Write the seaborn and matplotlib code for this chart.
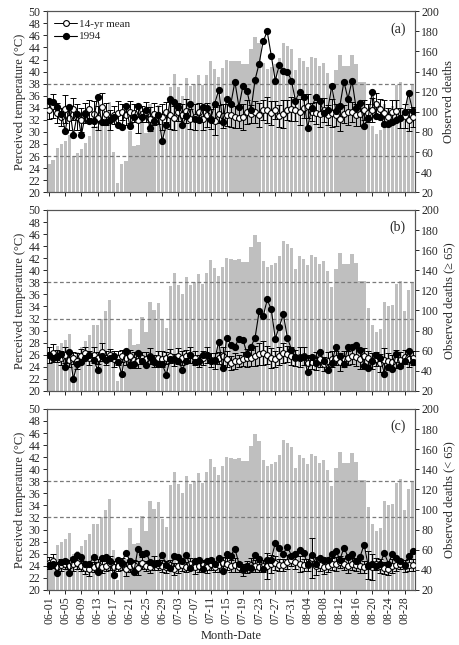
import numpy as np
import pandas as pd
import matplotlib
matplotlib.use('Agg')
import matplotlib.pyplot as plt
import seaborn as sns

# dates 06-01 .. 08-30
dates = pd.date_range('1994-06-01', '1994-08-30').strftime('%m-%d').tolist()

# perceived temperature (bars, left axis)
temp = [24.7, 25.4, 27.4, 28.0, 28.5, 29.5, 26.0, 26.5, 27.2, 28.2,
        29.3, 30.9, 30.9, 32.0, 33.2, 35.0, 26.6, 21.6, 24.6, 25.1,
        30.2, 27.6, 27.8, 32.3, 29.8, 34.7, 33.4, 34.5, 31.8, 30.5,
        37.4, 39.6, 37.5, 36.0, 38.9, 37.6, 38.0, 39.4, 37.7, 39.5,
        41.7, 40.4, 39.1, 40.6, 42.0, 41.8, 41.7, 41.8, 41.3, 41.3,
        43.8, 45.8, 44.7, 41.5, 40.5, 40.8, 41.2, 42.3, 44.8, 44.3,
        43.7, 40.2, 42.3, 41.8, 40.8, 42.5, 42.2, 41.0, 41.5, 39.8,
        37.2, 40.2, 42.8, 41.0, 41.0, 42.7, 41.2, 38.2, 38.2, 33.7,
        31.0, 29.7, 30.3, 34.7, 34.0, 34.3, 37.7, 38.3, 33.3, 36.7,
        38.0]

# (a) all deaths
a_1994 = [111, 110, 105, 98, 81, 105, 77, 98, 77, 98,
          91, 91, 115, 90, 90, 92, 95, 87, 85, 106,
          86, 95, 106, 95, 102, 84, 91, 97, 71, 87,
          113, 110, 105, 87, 96, 108, 93, 92, 105, 104,
          92, 108, 122, 90, 113, 108, 130, 105, 126, 121,
          102, 132, 148, 170, 180, 156, 131, 147, 141, 140,
          131, 111, 120, 115, 84, 104, 115, 111, 99, 102,
          126, 101, 106, 130, 113, 131, 104, 109, 86, 94,
          120, 96, 95, 88, 88, 90, 92, 94, 100, 119,
          101]
a_mean = [102, 106, 99, 95, 103, 94, 103, 95, 92, 99,
          103, 98, 94, 105, 98, 92, 97, 99, 100, 97,
          100, 99, 92, 98, 100, 93, 98, 97, 95, 100,
          97, 94, 100, 97, 101, 93, 95, 100, 93, 97,
          93, 91, 98, 96, 97, 97, 95, 94, 95, 100,
          98, 100, 97, 102, 102, 99, 102, 96, 98, 102,
          103, 102, 100, 104, 106, 100, 99, 98, 102, 97,
          99, 97, 93, 98, 100, 100, 97, 98, 102, 99,
          102, 108, 103, 99, 95, 100, 101, 94, 96, 92,
          95]
a_err = [9, 12, 10, 9, 14, 12, 11, 13, 12, 10,
         9, 13, 12, 14, 11, 10, 9, 12, 8, 10,
         11, 9, 13, 8, 10, 12, 11, 9, 13, 10,
         14, 12, 9, 11, 12, 10, 13, 9, 11, 12,
         10, 14, 9, 12, 11, 12, 11, 10, 13, 12,
         9, 11, 12, 10, 13, 12, 9, 11, 14, 10,
         12, 11, 13, 10, 12, 9, 11, 13, 12, 10,
         14, 11, 12, 9, 13, 10, 11, 12, 10, 9,
         12, 11, 10, 13, 9, 12, 11, 10, 12, 11,
         10]

# (b) deaths >= 65
b_1994 = [56, 53, 54, 57, 44, 59, 32, 47, 49, 53,
          56, 51, 41, 55, 51, 53, 55, 49, 37, 60,
          46, 47, 58, 50, 46, 54, 49, 47, 47, 36,
          52, 52, 50, 41, 50, 56, 49, 50, 56, 56,
          50, 51, 69, 43, 73, 66, 64, 72, 71, 57,
          64, 73, 99, 94, 111, 101, 72, 84, 96, 73,
          61, 54, 53, 54, 39, 54, 48, 59, 50, 41,
          48, 64, 55, 47, 64, 64, 66, 61, 45, 43,
          50, 56, 53, 37, 44, 42, 57, 45, 50, 60,
          49]
b_mean = [56, 58, 55, 53, 56, 51, 53, 50, 55, 58,
          53, 56, 53, 59, 53, 56, 52, 53, 55, 53,
          55, 51, 50, 53, 52, 55, 50, 53, 52, 53,
          55, 51, 55, 53, 55, 56, 53, 50, 53, 56,
          51, 50, 53, 55, 52, 48, 50, 50, 52, 53,
          53, 55, 57, 58, 56, 53, 52, 55, 58, 57,
          55, 53, 54, 55, 48, 49, 50, 52, 47, 50,
          52, 53, 49, 52, 53, 55, 54, 52, 55, 53,
          50, 52, 48, 51, 50, 49, 52, 51, 54, 52,
          53]
b_err = [8, 9, 6, 7, 8, 7, 6, 8, 7, 6,
         7, 8, 6, 9, 7, 6, 8, 7, 6, 7,
         6, 8, 7, 6, 7, 8, 6, 7, 8, 6,
         7, 6, 8, 7, 6, 8, 7, 6, 7, 8,
         7, 8, 6, 9, 8, 7, 8, 6, 7, 9,
         8, 10, 11, 12, 9, 10, 8, 9, 10, 8,
         9, 8, 10, 9, 8, 7, 9, 8, 7, 9,
         8, 7, 9, 8, 7, 8, 9, 10, 8, 7,
         8, 7, 9, 12, 8, 7, 9, 8, 7, 8,
         7]

# (c) deaths < 65
c_1994 = [45, 46, 37, 48, 49, 37, 51, 55, 53, 46,
          46, 53, 38, 52, 53, 49, 35, 50, 47, 57,
          49, 38, 61, 56, 57, 48, 46, 47, 55, 45,
          42, 54, 53, 49, 55, 42, 49, 50, 41, 49,
          50, 46, 52, 39, 56, 54, 61, 46, 41, 44,
          42, 55, 51, 41, 50, 50, 67, 62, 56, 63,
          54, 56, 60, 57, 46, 55, 46, 52, 50, 50,
          56, 59, 50, 62, 53, 56, 49, 53, 65, 44,
          46, 44, 46, 57, 46, 56, 52, 49, 45, 54,
          59]
c_mean = [47, 49, 43, 45, 46, 44, 46, 47, 44, 42,
          41, 43, 45, 43, 44, 47, 43, 44, 46, 41,
          44, 45, 42, 47, 44, 43, 47, 45, 44, 43,
          45, 41, 44, 45, 43, 46, 43, 44, 45, 43,
          46, 43, 45, 47, 46, 44, 45, 43, 40, 43,
          45, 44, 43, 44, 44, 46, 47, 45, 45, 48,
          50, 48, 46, 45, 45, 52, 44, 45, 43, 44,
          46, 46, 48, 46, 44, 46, 45, 44, 43, 45,
          43, 46, 44, 42, 41, 44, 45, 46, 44, 45,
          45]
c_err = [6, 7, 5, 6, 5, 6, 7, 6, 5, 6,
         7, 5, 6, 6, 5, 7, 6, 5, 6, 7,
         6, 5, 7, 6, 5, 6, 7, 5, 6, 6,
         5, 6, 7, 6, 5, 6, 7, 6, 5, 6,
         6, 5, 7, 6, 6, 6, 7, 5, 6, 6,
         7, 6, 5, 6, 13, 9, 7, 6, 6, 7,
         6, 7, 8, 6, 6, 20, 9, 6, 7, 6,
         6, 7, 6, 6, 7, 6, 6, 7, 6, 14,
         13, 6, 7, 6, 6, 7, 6, 5, 6, 6,
         6]

panels = [
    ('(a)', 'Observed deaths', a_1994, a_mean, a_err, [38, 26]),
    ('(b)', 'Observed deaths (\u2265 65)', b_1994, b_mean, b_err, [38, 32]),
    ('(c)', 'Observed deaths (< 65)', c_1994, c_mean, c_err, [38, 32]),
]

sns.set_style('ticks')
plt.rcParams['font.family'] = ['Liberation Serif', 'DejaVu Serif']
plt.rcParams['font.size'] = 8.5

fig = plt.figure(figsize=(4.6, 6.45), dpi=100)
bottoms = [0.702, 0.394, 0.0855]
x = np.arange(len(dates))
df = pd.DataFrame({'date': dates, 'temp': temp})

for k, (tag, rlabel, y94, ymean, yerr, hlines) in enumerate(panels):
    ax = fig.add_axes([0.1015, bottoms[k], 0.8007, 0.2805])
    sns.barplot(data=df, x='date', y='temp', color='#bfbfbf', saturation=1,
                width=0.82, linewidth=0, edgecolor='none', ax=ax, zorder=1)
    for h in hlines:
        ax.axhline(h, ls=(0, (3, 2)), color='#7a7a7a', lw=0.9, zorder=2)
    ax.set_ylim(20, 50)
    ax.set_yticks(range(20, 51, 2))
    ax.set_xlim(-0.6, len(dates) - 0.4)
    ax.set_xticks(x[::4])
    if k == 2:
        ax.set_xticklabels([dates[i] for i in x[::4]], rotation=90)
        ax.set_xlabel('Month-Date', fontsize=9, labelpad=4)
    else:
        ax.set_xticklabels([])
        ax.set_xlabel('')
    ax.set_ylabel('Perceived temperature (\u00b0C)', fontsize=9, labelpad=2)
    ax.tick_params(length=3, width=0.7, pad=1.5)

    ax2 = ax.twinx()
    ax2.errorbar(x, ymean, yerr=yerr, fmt='none', ecolor='black', elinewidth=0.7,
                 capsize=2, capthick=0.7, zorder=3)
    ax2.plot(x, ymean, '-o', color='black', mfc='white', mec='black', ms=4.2,
             mew=0.8, lw=0.7, label='14-yr mean', zorder=4)
    ax2.plot(x, y94, '-o', color='black', mfc='black', ms=4.2, lw=0.8,
             label='1994', zorder=5)
    ax2.set_ylim(20, 200)
    ax2.set_yticks(range(20, 201, 20))
    ax2.set_ylabel(rlabel, fontsize=9, labelpad=3)
    ax2.tick_params(length=3, width=0.7, pad=1.5)
    ax2.text(0.975, 0.94, tag, transform=ax2.transAxes, ha='right', va='top',
             fontsize=10)
    for a in (ax, ax2):
        for s in a.spines.values():
            s.set_color('#555555')
            s.set_linewidth(0.8)
    if k == 0:
        ax2.legend(loc='upper left', frameon=False, fontsize=8,
                   handlelength=2.0, handletextpad=0.2, labelspacing=0.25,
                   borderaxespad=0.3)

fig.savefig('out.png', dpi=100)
